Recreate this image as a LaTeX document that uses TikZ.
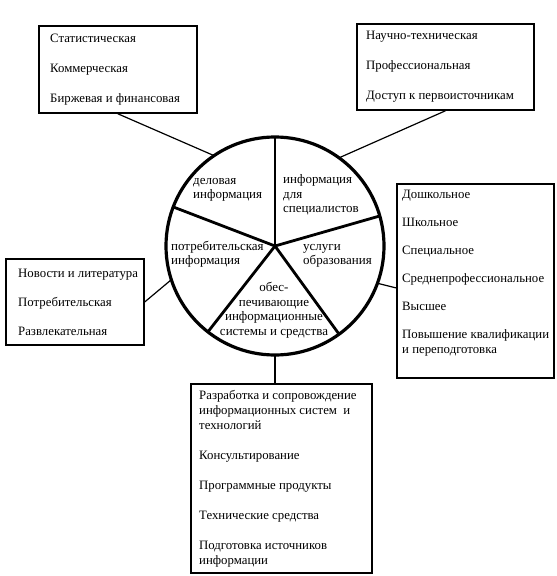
\documentclass[tikz,border=0pt]{standalone}
\usepackage{fontspec}
\setmainfont{Liberation Serif}
\usetikzlibrary{positioning}
\newcommand{\boxfont}{\fontsize{12.8pt}{15pt}\selectfont}
\newcommand{\wheelfont}{\fontsize{13pt}{14.5pt}\selectfont}
\tikzset{
  listbox/.style={draw, line width=1.8pt, anchor=north west, inner sep=0pt},
  listtext/.style={align=left, inner sep=0pt, font=\boxfont},
  wheel/.style={circle, draw, line width=3.2pt, minimum size=218pt, inner sep=0pt, outer sep=0pt},
  spoke/.style={line width=2.8pt},
  link/.style={line width=1.2pt},
  sector/.style={align=left, inner sep=0pt, font=\wheelfont}
}
\begin{document}
\begin{tikzpicture}[x=1pt, y=-1pt]
  \useasboundingbox (0,0) rectangle (557,576);
  % central wheel
  \node[wheel] (wheel) at (275,246) {};
  \foreach \a in {90,16,-54,-128,159}
    \draw[spoke] (wheel.center) -- (wheel.\a);
  \node[sector, anchor=west] at (193,190) {деловая\\информация};
  \node[sector, anchor=west] at (283,195) {информация\\для\\специалистов};
  \node[sector, anchor=west] at (171,254) {потребительская\\информация};
  \node[sector, anchor=west] at (303,256) {услуги\\образования};
  \node[sector, align=center] at (274,310) {обес-\\печивающие\\информационные\\системы и средства};
  % boxes
  \node[listbox, minimum width=158pt, minimum height=87pt] (bizlist) at (38,25) {};
  \node[listtext, right=12pt of bizlist.west]
    {Статистическая\\[15pt]Коммерческая\\[15pt]Биржевая и финансовая};
  \node[listbox, minimum width=177pt, minimum height=86pt] (speclist) at (356,23) {};
  \node[listtext, right=10pt of speclist.west]
    {Научно-техническая\\[15pt]Профессиональная\\[15pt]Доступ к первоисточникам};
  \node[listbox, minimum width=157pt, minimum height=194pt] (edulist) at (396,183) {};
  \node[listtext, right=6pt of edulist.west, yshift=8pt]
    {Дошкольное\\[13pt]Школьное\\[13pt]Специальное\\[13pt]Среднепрофессиональное\\[13pt]Высшее\\[13pt]Повышение квалификации\\и переподготовка};
  \node[listbox, minimum width=138pt, minimum height=86pt] (conslist) at (5,258) {};
  \node[listtext, right=13pt of conslist.west]
    {Новости и литература\\[14pt]Потребительская\\[14pt]Развлекательная};
  \node[listbox, minimum width=181pt, minimum height=189pt] (syslist) at (190,383) {};
  \node[listtext, right=9pt of syslist.west]
    {Разработка и сопровождение\\информационных систем\ \ и\\технологий\\[15pt]Консультирование\\[15pt]Программные продукты\\[15pt]Технические средства\\[15pt]Подготовка источников\\информации};
  % links
  \draw[link] (bizlist.south) -- (wheel.124);
  \draw[link] (speclist.south) -- (wheel.54);
  \draw[link] ([yshift=-7pt]edulist.west) -- (wheel.-20);
  \draw[link] (conslist.east) -- (wheel.198);
  \draw[link] (wheel.south) -- (wheel.south |- syslist.north);
\end{tikzpicture}
\end{document}
